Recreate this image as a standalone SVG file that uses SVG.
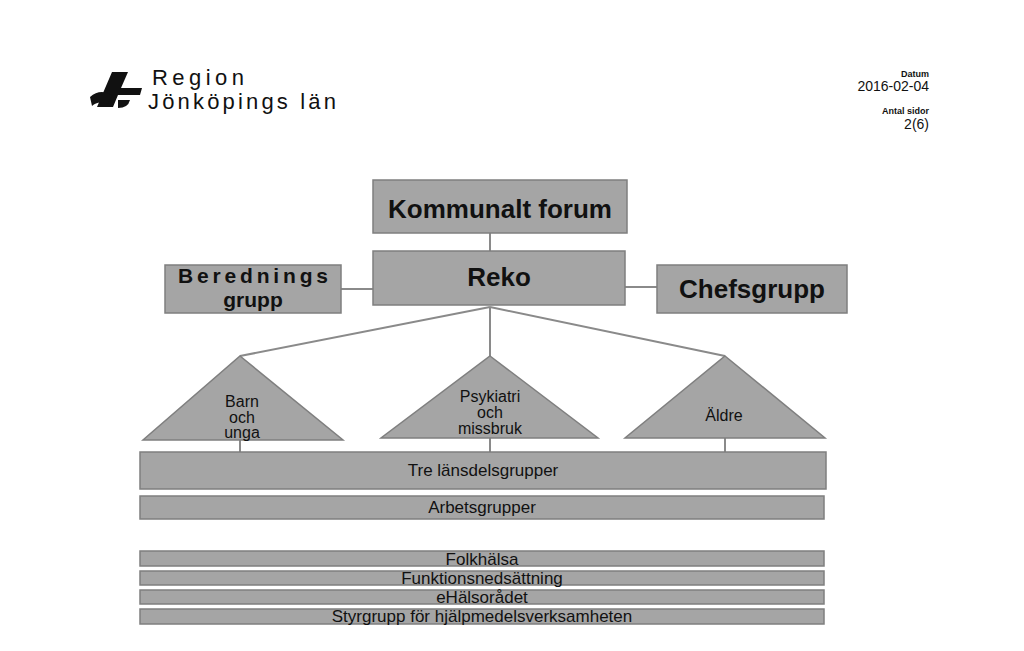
<svg xmlns="http://www.w3.org/2000/svg" width="1024" height="651" viewBox="0 0 1024 651">
<style>
.b{fill:#a5a5a5;stroke:#7f7f7f;stroke-width:1.5}
.t{font-family:"Liberation Sans",Arial,sans-serif;fill:#111;text-anchor:middle}
.big{font-size:26px;font-weight:bold}
.sm{font-size:17px}
.xs{font-size:16px}
.c{stroke:#8a8a8a;stroke-width:2;fill:none}
</style>
<rect width="1024" height="651" fill="#fff"/>
<g id="logo">
<path d="M112 72 L128 72 L121 88 L142 88 L140 95 L118 95 L113 107 L97 107 Z" fill="#111"/>
<path d="M90 97 Q100 88 112 95 L108 104 Q98 100 92 106 Z" fill="#111"/>
<path d="M118 100 L130 100 Q128 108 118 108 Z" fill="#111"/>
<text x="152" y="85" font-family="'Liberation Sans',Arial,sans-serif" font-size="22" fill="#111" textLength="92">Region</text>
<text x="148" y="109" font-family="'Liberation Sans',Arial,sans-serif" font-size="22" fill="#111" textLength="188">Jönköpings län</text>
</g>
<g id="header" font-family="'Liberation Sans',Arial,sans-serif" fill="#111" text-anchor="end">
<text x="929" y="77" font-size="9" font-weight="bold">Datum</text>
<text x="929" y="91" font-size="14">2016-02-04</text>
<text x="929" y="114" font-size="9" font-weight="bold">Antal sidor</text>
<text x="929" y="129" font-size="14">2(6)</text>
</g>
<g id="connectors" class="c">
<line x1="490" y1="233" x2="490" y2="251"/>
<line x1="341" y1="289" x2="373" y2="289"/>
<line x1="625" y1="287" x2="657" y2="287"/>
<line x1="490" y1="307" x2="240" y2="356"/>
<line x1="490" y1="307" x2="490" y2="356"/>
<line x1="490" y1="307" x2="725" y2="356"/>
<line x1="240" y1="440" x2="240" y2="452"/>
<line x1="490" y1="438" x2="490" y2="452"/>
<line x1="725" y1="438" x2="725" y2="452"/>
</g>
<g id="kommunalt"><rect class="b" x="373" y="180" width="254" height="53"/><text class="t big" x="500" y="218">Kommunalt forum</text></g>
<g id="reko"><rect class="b" x="373" y="251" width="252" height="54"/><text class="t big" x="499" y="286">Reko</text></g>
<g id="beredning"><rect class="b" x="165" y="265" width="176" height="48"/><text class="t big" x="253" y="283" style="font-size:21px" textLength="150">Berednings</text><text class="t big" x="253" y="307" style="font-size:21px">grupp</text></g>
<g id="chefsgrupp"><rect class="b" x="657" y="265" width="190" height="48"/><text class="t big" x="752" y="298">Chefsgrupp</text></g>
<g id="barn"><polygon class="b" points="240,356 343,440 143,440"/><text class="t xs" x="242" y="407">Barn</text><text class="t xs" x="242" y="423">och</text><text class="t xs" x="242" y="438">unga</text></g>
<g id="psyk"><polygon class="b" points="490,356 598,438 381,438"/><text class="t xs" x="490" y="402">Psykiatri</text><text class="t xs" x="490" y="418">och</text><text class="t xs" x="490" y="434">missbruk</text></g>
<g id="aldre"><polygon class="b" points="725,356 825,438 625,438"/><text class="t xs" x="724" y="421">Äldre</text></g>
<g id="tre"><rect class="b" x="140" y="452" width="686" height="37"/><text class="t sm" x="483" y="476">Tre länsdelsgrupper</text></g>
<g id="arbets"><rect class="b" x="140" y="496" width="684" height="23"/><text class="t sm" x="482" y="513">Arbetsgrupper</text></g>
<g id="folk"><rect class="b" x="140" y="551" width="684" height="15"/><text class="t sm" x="482" y="565">Folkhälsa</text></g>
<g id="funk"><rect class="b" x="140" y="571" width="684" height="14"/><text class="t sm" x="482" y="584">Funktionsnedsättning</text></g>
<g id="ehalsa"><rect class="b" x="140" y="590" width="684" height="14"/><text class="t sm" x="482" y="603">eHälsorådet</text></g>
<g id="styr"><rect class="b" x="140" y="609" width="684" height="15"/><text class="t sm" x="482" y="622">Styrgrupp för hjälpmedelsverksamheten</text></g>
</svg>
